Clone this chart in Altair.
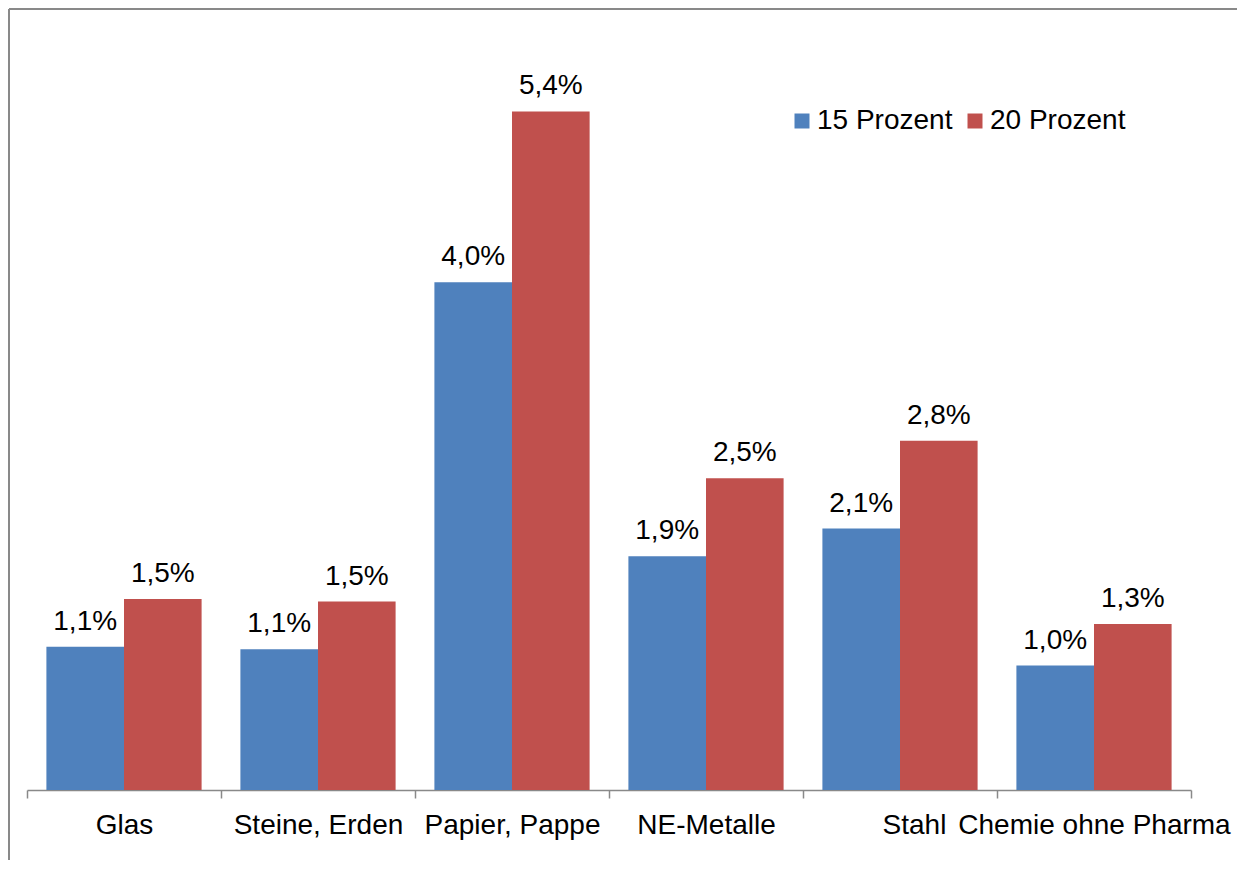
import altair as alt
import pandas as pd

categories = ["Glas", "Steine, Erden", "Papier, Pappe", "NE-Metalle", "Stahl", "Chemie ohne Pharma"]
series = ["15 Prozent", "20 Prozent"]
values_15 = [1.14, 1.12, 4.04, 1.86, 2.08, 0.99]
values_20 = [1.52, 1.50, 5.40, 2.48, 2.78, 1.32]
colors = ["#4F81BD", "#C0504D"]

rows = []
for c, a, b in zip(categories, values_15, values_20):
    rows.append({"cat": c, "series": series[0], "value": a})
    rows.append({"cat": c, "series": series[1], "value": b})
df = pd.DataFrame(rows)

FONT = "Liberation Sans"
GRAY = "#898989"
FS = 28

x_enc = alt.X(
    "cat:N", sort=categories,
    scale=alt.Scale(paddingInner=0, paddingOuter=0),
    axis=alt.Axis(title=None, labelAngle=0, tickBand="extent", labelPadding=13,
                  labelFontSize=FS, labelFont=FONT, labelColor="black",
                  labelOffset={"condition": {"test": "datum.value === 'Stahl'", "value": 14}, "value": 0},
                  domainColor=GRAY, tickColor=GRAY, domainWidth=1.5, tickWidth=1.5,
                  tickSize=8, labelLimit=400),
)
xo_enc = alt.XOffset("series:N", sort=series, scale=alt.Scale(paddingInner=0, paddingOuter=0.25))
y_enc = alt.Y("value:Q", scale=alt.Scale(domain=[0, 6], nice=False, zero=True), axis=None)

base = alt.Chart(df).encode(x=x_enc, xOffset=xo_enc, y=y_enc)

bars = base.mark_bar().encode(
    color=alt.Color(
        "series:N", sort=series,
        scale=alt.Scale(domain=series, range=colors),
        legend=alt.Legend(
            title=None, orient="none", direction="horizontal",
            legendX=761, legendY=71, symbolType="square", symbolSize=225,
            symbolStrokeWidth=0, labelFontSize=FS, labelFont=FONT,
            labelColor="black", labelOffset=1, columnPadding=8,
        ),
    )
)

labels = base.transform_calculate(
    lab="replace(format(datum.value, '.1f'), '.', ',') + '%'"
).mark_text(
    baseline="alphabetic", dy=-17, fontSize=FS, font=FONT, color="black"
).encode(text="lab:N")

one = pd.DataFrame({"a": [0]})
frame_left = alt.Chart(one).mark_rule(color=GRAY, strokeWidth=2).encode(
    x=alt.value(-18), y=alt.value(-27), y2=alt.value(900)
)
frame_top = alt.Chart(one).mark_rule(color=GRAY, strokeWidth=2).encode(
    x=alt.value(-18), x2=alt.value(1400), y=alt.value(-27)
)

chart = alt.layer(frame_left, frame_top, bars, labels).properties(
    width=1164, height=754,
    autosize=alt.AutoSizeParams(type="none"),
    padding={"left": 19, "top": 28, "right": 46, "bottom": 70},
).configure_view(stroke=None)

chart.save("out.html", embed_options={"renderer": "svg", "actions": False})
